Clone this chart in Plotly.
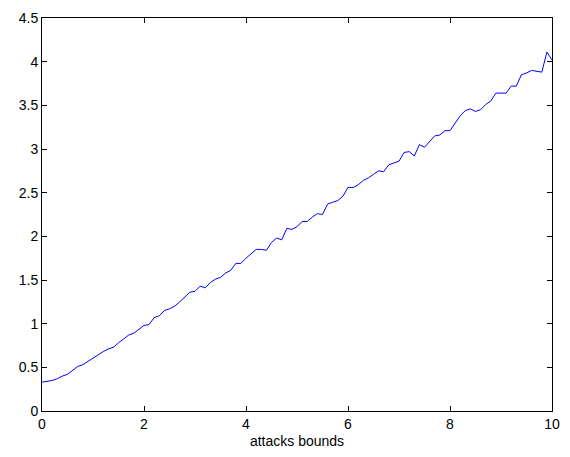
import plotly.graph_objects as go

x_vals = [round(i * 0.1, 1) for i in range(101)]
y_vals = [
    0.33, 0.34, 0.35, 0.37, 0.40, 0.42, 0.46, 0.51, 0.53, 0.57,
    0.61, 0.64, 0.68, 0.71, 0.73, 0.78, 0.83, 0.87, 0.89, 0.94,
    0.98, 0.99, 1.07, 1.09, 1.15, 1.17, 1.20, 1.25, 1.31, 1.36,
    1.37, 1.43, 1.41, 1.47, 1.51, 1.53, 1.58, 1.61, 1.69, 1.69,
    1.75, 1.80, 1.85, 1.85, 1.84, 1.93, 1.98, 1.96, 2.09, 2.08,
    2.11, 2.17, 2.17, 2.22, 2.26, 2.25, 2.37, 2.39, 2.41, 2.46,
    2.56, 2.56, 2.59, 2.64, 2.67, 2.71, 2.75, 2.74, 2.82, 2.84,
    2.86, 2.96, 2.97, 2.92, 3.05, 3.02, 3.09, 3.15, 3.16, 3.21,
    3.21, 3.30, 3.38, 3.44, 3.46, 3.43, 3.45, 3.51, 3.55, 3.64,
    3.64, 3.64, 3.72, 3.72, 3.85, 3.87, 3.90, 3.89, 3.88, 4.11,
    4.02,
]
x_ticks = [0, 2, 4, 6, 8, 10]
y_ticks = [0, 0.5, 1, 1.5, 2, 2.5, 3, 3.5, 4, 4.5]
y_tick_text = ["0", "0.5", "1", "1.5", "2", "2.5", "3", "3.5", "4", "4.5"]
x_label = "attacks bounds"

font = dict(family="Liberation Sans, Arial", size=14, color="black")

fig = go.Figure()
fig.add_trace(go.Scatter(x=x_vals, y=y_vals, mode="lines",
                         line=dict(color="#0000ff", width=1)))

axis_common = dict(
    showgrid=False, zeroline=False, showline=True, linecolor="black",
    linewidth=1, mirror="ticks", ticks="inside", ticklen=5,
    tickcolor="black", tickwidth=1, tickfont=font,
)
fig.update_xaxes(range=[0, 10], tickvals=x_ticks, ticktext=[str(t) for t in x_ticks],
                 title=dict(text=x_label, standoff=5, font=font),
                 **axis_common)
fig.update_yaxes(range=[0, 4.5], tickvals=y_ticks, ticktext=y_tick_text, **axis_common)

fig.update_layout(
    width=570, height=457,
    margin=dict(l=42, r=18, t=10, b=45),
    paper_bgcolor="white", plot_bgcolor="white",
    showlegend=False,
)
fig.write_html("out.html")
